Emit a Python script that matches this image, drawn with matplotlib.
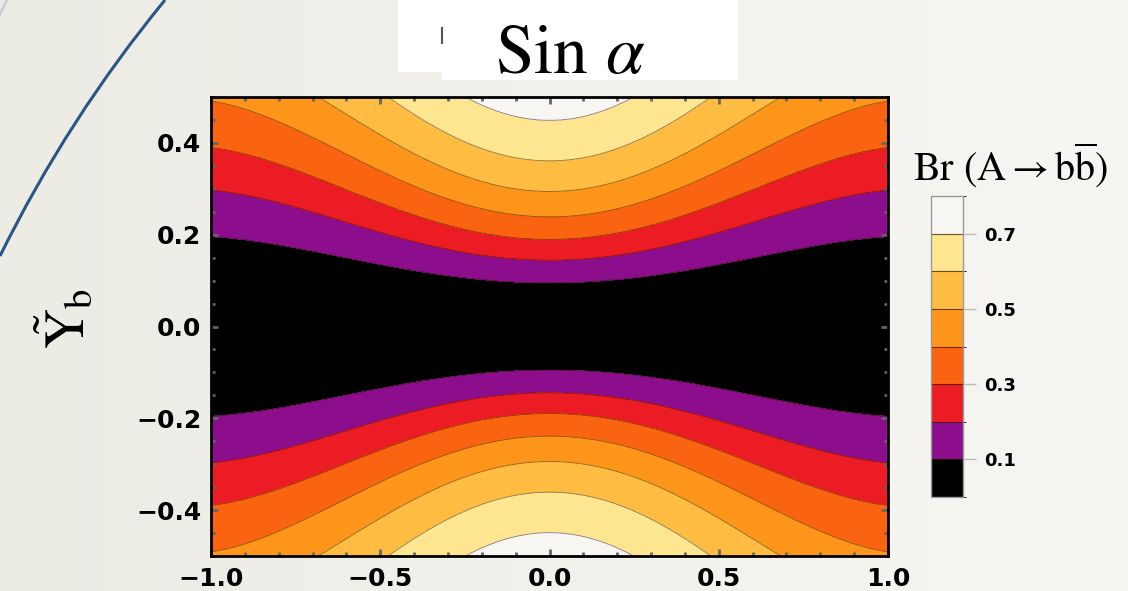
import numpy as np
import matplotlib
matplotlib.use("Agg")
import matplotlib.pyplot as plt
from matplotlib.colors import ListedColormap, BoundaryNorm, to_rgb
from matplotlib.patches import Rectangle, PathPatch
from matplotlib.path import Path
from matplotlib.ticker import MultipleLocator

plt.rcParams["mathtext.fontset"] = "stix"

# contour levels of Br(A -> b bbar) and their |Y_b| position at sin(alpha) = 0
br_levels = [0.0, 0.1, 0.2, 0.3, 0.4, 0.5, 0.6, 0.7, 0.8]
y_at_center = [0.0, 0.093, 0.141, 0.185, 0.233, 0.287, 0.352, 0.438, 0.60]

# how much the contours open up as |sin(alpha)| grows
sin_pts = [0.0, 0.25, 0.5, 0.75, 1.0]
widen = [1.0, 1.15, 1.47, 1.83, 2.11]

band_colors = ["#000000", "#8c0e8c", "#ec1c24", "#fa6410", "#fd951a",
               "#febd42", "#fee590", "#f7f6f2"]
cbar_ticks = [0.1, 0.3, 0.5, 0.7]

W, H = 1128, 591
fig = plt.figure(figsize=(W / 100, H / 100), dpi=100)


def fx(px):
    return px / W


def fy(py):
    return 1 - py / H


# slide background, light gradient left to right
bg = fig.add_axes([0, 0, 1, 1])
bg.set_zorder(-5)
c0 = np.array(to_rgb("#ecebe4"))
c1 = np.array(to_rgb("#f7f6f2"))
t = np.linspace(0, 1, W)[None, :, None]
bg.imshow(c0 + (c1 - c0) * t, aspect="auto", extent=[0, 1, 0, 1], interpolation="bilinear")
bg.set_xlim(0, 1)
bg.set_ylim(0, 1)
bg.axis("off")

# blue decorative arc on the left
arc = Path([(fx(165), fy(0)), (fx(68), fy(118)), (fx(0), fy(256))],
           [Path.MOVETO, Path.CURVE3, Path.CURVE3])
bg.add_patch(PathPatch(arc, fc="none", ec="#2a5585", lw=2.2, transform=fig.transFigure))
bg.plot([fx(0), fx(7)], [fy(14), fy(0)], color="#c8ced6", lw=2, transform=fig.transFigure)

# title box
bg.add_patch(Rectangle((fx(398), fy(72)), fx(44), fy(0) - fy(72),
                       fc="white", ec="none", transform=fig.transFigure))
bg.add_patch(Rectangle((fx(442), fy(80)), fx(296), fy(0) - fy(80),
                       fc="white", ec="none", transform=fig.transFigure))
bg.plot([fx(442), fx(442)], [fy(28), fy(43)], color="#555555", lw=1.5,
        transform=fig.transFigure)
fig.text(fx(570), fy(73), r"Sin $\alpha$", family="STIXGeneral", fontsize=50,
         ha="center", va="baseline")

# field
xs = np.array(sin_pts)
xs = np.concatenate([-xs[:0:-1], xs])
ss = np.array(widen)
ss = np.concatenate([ss[:0:-1], ss])
coef = np.polyfit(xs, ss, 4)

x = np.linspace(-1, 1, 501)
y = np.linspace(-0.5, 0.5, 501)
X, Y = np.meshgrid(x, y)
U = np.abs(Y) / np.polyval(coef, X)
Z = np.interp(U, y_at_center, br_levels)

ax = fig.add_axes([fx(211), fy(556), fx(888) - fx(211), fy(97) - fy(556)])
cmap = ListedColormap(band_colors)
norm = BoundaryNorm(br_levels, cmap.N)
cf = ax.contourf(X, Y, Z, levels=br_levels, cmap=cmap, norm=norm)
ax.contour(X, Y, Z, levels=br_levels[1:-1], colors=[(0.2, 0.08, 0, 0.55)], linewidths=0.6)

ax.set_xlim(-1, 1)
ax.set_ylim(-0.5, 0.5)
ax.xaxis.set_major_locator(MultipleLocator(0.5))
ax.xaxis.set_minor_locator(MultipleLocator(0.1))
ax.yaxis.set_major_locator(MultipleLocator(0.2))
ax.yaxis.set_minor_locator(MultipleLocator(0.05))
fmt = plt.FuncFormatter(lambda v, p: f"{v:.1f}".replace("-", "\u2212"))
ax.xaxis.set_major_formatter(fmt)
ax.yaxis.set_major_formatter(fmt)
ax.tick_params(which="both", direction="in", top=True, right=True, color="#666666")
ax.tick_params(which="major", length=5, width=2)
ax.tick_params(which="minor", length=3, width=2)
ax.tick_params(axis="y", which="major", pad=7)
ax.tick_params(axis="x", which="major", pad=8)
for lab in ax.get_xticklabels() + ax.get_yticklabels():
    lab.set_fontfamily("DejaVu Sans")
    lab.set_fontweight("bold")
    lab.set_fontsize(18)
for sp in ax.spines.values():
    sp.set_linewidth(2)
    sp.set_color("black")

fig.text(fx(66), fy(318), r"$\tilde{\mathrm{Y}}_{\mathrm{b}}$", fontsize=40,
         rotation=90, ha="center", va="center")

# colour bar
cax = fig.add_axes([fx(931), fy(497), fx(963) - fx(931), fy(196) - fy(497)])
cb = fig.colorbar(cf, cax=cax, ticks=cbar_ticks, drawedges=True)
cb.outline.set_edgecolor("#999999")
cb.outline.set_linewidth(1)
cb.dividers.set_color((0.2, 0.08, 0, 0.7))
cb.dividers.set_linewidth(0.8)
cax.tick_params(length=9, width=1, color="#bbbbbb", pad=6)
for lab in cax.get_yticklabels():
    lab.set_fontfamily("DejaVu Sans")
    lab.set_fontweight("bold")
    lab.set_fontsize(13)
fig.text(fx(1011), fy(181), r"Br (A$\rightarrow$b$\overline{\mathrm{b}}$)",
         family="STIXGeneral", fontsize=29, ha="center", va="baseline")

fig.savefig("out.png", dpi=100)
